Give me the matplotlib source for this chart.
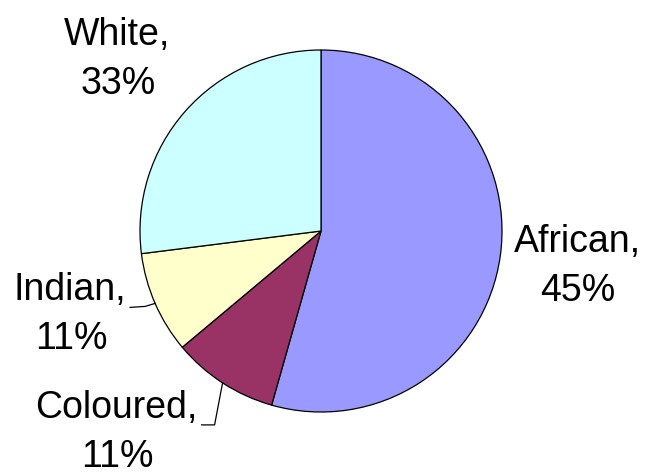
import numpy as np
import matplotlib
matplotlib.use("Agg")
import matplotlib.pyplot as plt

# Data (wedge sizes as drawn; label text as printed on the chart)
categories = ["African", "Coloured", "Indian", "White"]
wedge_sizes = [54.4, 9.5, 9.1, 27.0]
pct_labels = ["45%", "11%", "11%", "33%"]
colors = ["#9999FF", "#993366", "#FFFFCC", "#CCFFFF"]

W, H = 645, 476
fig = plt.figure(figsize=(W / 100, H / 100), dpi=100)
ax = fig.add_axes([0, 0, 1, 1])
ax.set_xlim(0, W)
ax.set_ylim(0, H)
ax.set_aspect("equal")
ax.axis("off")

cx, cy, r = 321, H - 231, 181
wedges, _ = ax.pie(wedge_sizes, colors=colors, startangle=90, counterclock=False,
                   center=(cx, cy), radius=r, frame=True,
                   wedgeprops=dict(edgecolor="black", linewidth=0.9))
ax.set_xlim(0, W)
ax.set_ylim(0, H)
ax.axis("off")

font = dict(family=["Liberation Sans", "DejaVu Sans"], fontsize=27, color="black")

# label positions (centre x, baseline y of first line in image pixels)
label_pos = {
    "African": (577, 252),
    "Coloured": (116, 418),
    "Indian": (70, 300),
    "White": (117, 45),
}
line_gap = 49
for cat, pct in zip(categories, pct_labels):
    x, yb = label_pos[cat]
    ax.text(x, H - yb, cat + ",", ha="center", va="baseline", **font)
    ax.text(x + 1, H - yb - line_gap, pct, ha="center", va="baseline", **font)

# leader lines from wedge mid-angle
def mid_point(w):
    a = np.deg2rad((w.theta1 + w.theta2) / 2)
    return cx + r * np.cos(a), cy + r * np.sin(a)

# Indian
x0, y0 = mid_point(wedges[2])
ax.plot([x0, x0 - 10, x0 - 25], [y0, y0 - 3, y0 - 4], color="black", lw=0.9)
# Coloured
x0, y0 = mid_point(wedges[1])
ax.plot([x0, x0 - 8, x0 - 21], [y0, y0 - 42, y0 - 42], color="black", lw=0.9)

fig.savefig("out.png", dpi=100, facecolor="white")
